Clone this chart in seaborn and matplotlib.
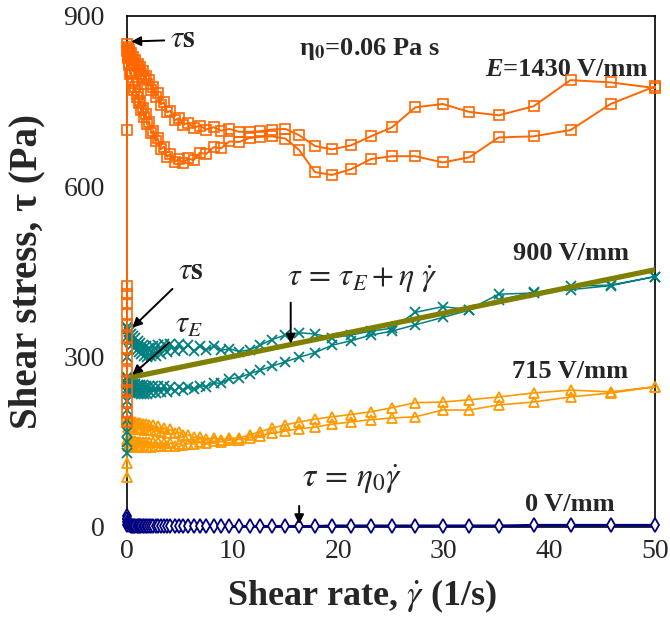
import matplotlib
matplotlib.use("Agg")
import matplotlib.pyplot as plt
import pandas as pd
import seaborn as sns

# Shear-rate steps of the sweep (1/s)
shear_rate = [
    0.02, 0.05, 0.1, 0.15, 0.2, 0.3, 0.4, 0.5, 0.6, 0.7,
    0.8, 0.9, 1.0, 1.1, 1.2, 1.35, 1.5, 1.6, 1.75, 1.9,
    2.1, 2.3, 2.5, 2.7, 2.9, 3.2, 3.5, 3.8, 4.1, 4.5,
    4.9, 5.3, 5.8, 6.3, 6.9, 7.5, 8.2, 8.9, 9.7, 10.6,
    11.6, 12.6, 13.7, 15.0, 16.3, 17.8, 19.4, 21.2, 23.1, 25.1,
    27.3, 29.9, 32.4, 35.2, 38.5, 42.0, 45.8, 50.0,
]

# E = 1430 V/mm (Pa): stress ramp at rest, then up and down sweeps
stem_1430 = [185, 200, 220, 242, 256, 275, 295, 315, 335, 355, 375, 395, 410, 425, 700]
up_1430 = [
    850, 842, 846, 836, 840, 830, 834, 823, 828, 817,
    822, 811, 816, 805, 810, 797, 803, 790, 795, 781,
    787, 769, 775, 758, 764, 744, 748, 730, 733, 716,
    720, 708, 712, 703, 707, 700, 704, 698, 701, 696,
    696, 697, 700, 701, 690, 671, 665, 672, 688, 704,
    739, 745, 731, 725, 741, 787, 783, 773,
]
down_1430 = [
    838, 826, 828, 813, 818, 798, 800, 782, 786, 769,
    774, 757, 762, 746, 751, 734, 738, 722, 727, 709,
    713, 693, 698, 679, 685, 665, 670, 652, 657, 643,
    648, 641, 649, 646, 659, 657, 669, 667, 679, 678,
    685, 687, 688, 684, 664, 625, 620, 630, 648, 653,
    653, 642, 651, 686, 688, 699, 745, 776,
]

# E = 900 V/mm (Pa)
stem_900 = [130, 150, 168, 188, 206, 222, 238, 252, 265, 300]
up_900 = [
    352, 336, 348, 330, 344, 325, 340, 320, 336, 316,
    332, 312, 328, 308, 324, 304, 320, 302, 318, 300,
    316, 301, 318, 302, 320, 305, 322, 308, 323, 310,
    322, 312, 320, 310, 318, 312, 318, 311, 314, 309,
    312, 320, 330, 338, 342, 340, 333, 338, 345, 350,
    378, 388, 383, 410, 412, 424, 426, 441,
]
down_900 = [
    262, 244, 258, 240, 256, 238, 254, 237, 252, 236,
    252, 236, 250, 236, 250, 235, 250, 235, 249, 235,
    249, 236, 248, 236, 248, 237, 248, 238, 247, 239,
    247, 241, 247, 243, 249, 247, 254, 253, 261, 263,
    270, 276, 283, 291, 299, 307, 320, 328, 338, 345,
    356, 369, 382, 400, 413, 418, 425, 441,
]

# E = 715 V/mm (Pa)
stem_715 = [88, 112]
up_715 = [
    188, 176, 187, 175, 187, 174, 186, 174, 185, 173,
    185, 173, 184, 172, 183, 172, 182, 171, 181, 171,
    180, 170, 179, 169, 177, 168, 175, 166, 172, 165,
    167, 162, 162, 158, 158, 155, 157, 154, 156, 157,
    162, 168, 174, 180, 185, 190, 194, 198, 203, 210,
    219, 220, 224, 229, 236, 241, 238, 247,
]
down_715 = [
    153, 143, 152, 142, 152, 142, 151, 142, 151, 141,
    151, 141, 150, 141, 150, 141, 150, 141, 150, 141,
    150, 141, 149, 142, 149, 142, 148, 143, 148, 143,
    147, 144, 147, 146, 149, 148, 151, 150, 153, 154,
    157, 161, 165, 169, 173, 176, 181, 185, 189, 192,
    194, 206, 206, 215, 220, 229, 236, 247,
]

# E = 0 V/mm (Pa)
stem_0 = [4, 9, 14, 20]
up_0 = [
    14, 10, 7, 5, 4, 3, 2, 2, 1, 1,
    1, 1, 1, 1, 1, 1, 1, 1, 1, 1,
    1, 1, 1, 1, 1, 1, 1, 1, 1, 1,
    1, 1, 1, 1, 1, 1, 1, 1, 1, 1,
    1, 1, 1, 1, 1, 1, 2, 2, 2, 2,
    2, 2, 2, 2, 3, 3, 3, 3,
]

# Bingham fit  tau = tau_E + eta * rate  for 900 V/mm
fit_rate = [0.5, 50.0]
fit_stress = [264, 453]


def sweep(stem, up, down=None):
    rate = [0.0] * len(stem) + shear_rate
    stress = list(stem) + list(up)
    if down is not None:
        rate += shear_rate[::-1]
        stress += list(down)[::-1]
    return pd.DataFrame({"rate": rate, "stress": stress})


sns.set_style("white")
plt.rcParams["font.family"] = ["Liberation Serif", "DejaVu Serif"]
plt.rcParams["mathtext.fontset"] = "stix"

fig = plt.figure(figsize=(6.7, 6.38), dpi=100)
ax = fig.add_axes([0.1896, 0.174, 0.788, 0.801])

common = dict(ax=ax, x="rate", y="stress", sort=False, estimator=None,
              legend=False, clip_on=False)

sns.lineplot(data=sweep(stem_0, up_0), color="#000080", lw=2.0,
             marker="d", markersize=7, markerfacecolor="white",
             markeredgecolor="#000080", markeredgewidth=1.3, zorder=3, **common)
sns.lineplot(data=sweep(stem_715, up_715, down_715), color="#ff9900", lw=1.2,
             marker="^", markersize=7.5, markerfacecolor="none",
             markeredgecolor="#ff9900", markeredgewidth=1.3, zorder=4, **common)
sns.lineplot(data=sweep(stem_900, up_900, down_900), color="#008080", lw=1.1,
             marker="x", markersize=7.5, markeredgecolor="#008080",
             markeredgewidth=1.3, zorder=5, **common)
sns.lineplot(data=sweep(stem_1430, up_1430, down_1430), color="#ff6600", lw=1.4,
             marker="s", markersize=7, markerfacecolor="none",
             markeredgecolor="#ff6600", markeredgewidth=1.2, zorder=6, **common)
sns.lineplot(x=fit_rate, y=fit_stress, ax=ax, color="#808000", lw=3.8,
             sort=False, estimator=None, legend=False, zorder=7)

ax.set_xlim(0, 50)
ax.set_ylim(0, 900)
ax.set_xticks([0, 10, 20, 30, 40, 50])
ax.set_yticks([0, 300, 600, 900])
ax.tick_params(axis="x", direction="in", length=6, width=1, labelsize=20, pad=9)
ax.tick_params(axis="y", direction="in", length=6, width=1, labelsize=20, pad=16)
for side in ax.spines.values():
    side.set_color("black")
    side.set_linewidth(1.2)

ax.set_xlabel(r"Shear rate, $\dot{\gamma}$ (1/s)", fontsize=26, fontweight="bold")
ax.xaxis.set_label_coords(0.445, -0.10)
ax.set_ylabel("Shear stress, τ (Pa)", fontsize=28, fontweight="bold")
ax.yaxis.set_label_coords(-0.155, 0.5)

# Field strength labels
ax.text(23.0, 842, r"η$_{\mathbf{0}}$=0.06 Pa s", fontsize=19, fontweight="bold",
        ha="center", va="center")
ax.text(35.6, 794, "E", fontsize=19, fontweight="bold", fontstyle="italic",
        ha="right", va="baseline")
ax.text(35.6, 794, "=1430 V/mm", fontsize=19, fontweight="bold",
        ha="left", va="baseline")
ax.text(42.0, 482, "900 V/mm", fontsize=19, fontweight="bold", ha="center", va="center")
ax.text(42.0, 273, "715 V/mm", fontsize=19, fontweight="bold", ha="center", va="center")
ax.text(41.9, 40, "0 V/mm", fontsize=19, fontweight="bold", ha="center", va="center")

arrow = dict(arrowstyle="-|>", color="black", lw=1.4, mutation_scale=14,
             shrinkA=2, shrinkB=0)

# Yield and dynamic yield stress markers
ax.annotate(r"$\tau\mathbf{s}$", xy=(0.4, 855), xytext=(4.1, 858), fontsize=22,
            ha="left", va="center", arrowprops=arrow, zorder=10)
ax.annotate(r"$\tau\mathbf{s}$", xy=(0.5, 351), xytext=(4.8, 450), fontsize=22,
            ha="left", va="center", arrowprops=arrow, zorder=10)
ax.annotate(r"$\tau_E$", xy=(0.5, 268), xytext=(4.5, 355), fontsize=22,
            ha="left", va="center", arrowprops=arrow, zorder=10)

# Model equations
ax.text(22.3, 436, r"$\tau\,=\,\tau_E+\eta\ \dot{\gamma}$", fontsize=23,
        ha="center", va="center")
ax.annotate("", xy=(15.5, 323), xytext=(15.5, 400), arrowprops=arrow, zorder=10)
ax.text(21.3, 83, r"$\tau\,=\,\eta_0\dot{\gamma}$", fontsize=24,
        ha="center", va="center")
ax.annotate("", xy=(16.3, 5), xytext=(16.3, 42), arrowprops=arrow, zorder=10)

fig.savefig("out.png", dpi=100)
